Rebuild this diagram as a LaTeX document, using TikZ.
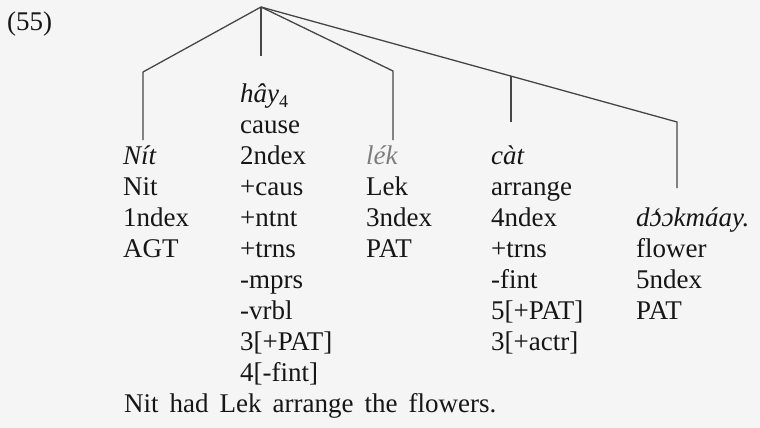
\documentclass[tikz,border=0pt]{standalone}
\usepackage{fontspec}
\setmainfont{Liberation Serif}
\usetikzlibrary{calc}
\definecolor{bg}{RGB}{245,245,245}
\definecolor{ink}{RGB}{22,22,22}
\definecolor{branch}{RGB}{70,70,70}
\definecolor{faded}{RGB}{125,125,125}
\newcommand\gravopen{\ooalign{ɔ\cr\hidewidth\kern0.12em{\upshape\symbol{"60}}\hidewidth\cr}}
\begin{document}
\begin{tikzpicture}[x=1pt,y=-1pt,
  txt/.style={anchor=base west, inner sep=0pt, text=ink, font=\fontsize{27}{31}\selectfont},
  ittxt/.style={txt, font=\fontsize{27}{31}\selectfont\itshape},
  branchline/.style={draw=branch, line width=1.3pt, line join=miter}]
\fill[bg] (0,0) rectangle (760,428);
\useasboundingbox (0,0) rectangle (760,428);

% example number
\node[txt] (ex) at (7,31) {(55)};

% column 1
\node[ittxt] (w1) at (123,164) {Nít};
\node[txt] (g1) at (123,195) {Nit};
\node[txt] (i1) at (123,226) {1ndex};
\node[txt] (r1) at (123,257) {AGT};

% column 2
\node[ittxt] (w2) at (240,102) {hây\raisebox{-0.22em}{\upshape\fontsize{18}{18}\selectfont 4}};
\node[txt] (g2) at (240,133) {cause};
\node[txt] (i2) at (240,164) {2ndex};
\node[txt] (f2a) at (240,195) {+caus};
\node[txt] (f2b) at (240,226) {+ntnt};
\node[txt] (f2c) at (240,257) {+trns};
\node[txt] (f2d) at (240,288) {-mprs};
\node[txt] (f2e) at (240,319) {-vrbl};
\node[txt] (f2f) at (240,350) {3[+PAT]};
\node[txt] (f2g) at (240,381) {4[-fint]};

% column 3
\node[ittxt, text=faded] (w3) at (366,164) {lék};
\node[txt] (g3) at (366,195) {Lek};
\node[txt] (i3) at (366,226) {3ndex};
\node[txt] (r3) at (366,257) {PAT};

% column 4
\node[ittxt] (w4) at (491,164) {càt};
\node[txt] (g4) at (491,195) {arrange};
\node[txt] (i4) at (491,226) {4ndex};
\node[txt] (f4a) at (491,257) {+trns};
\node[txt] (f4b) at (491,288) {-fint};
\node[txt] (f4c) at (491,319) {5[+PAT]};
\node[txt] (f4d) at (491,350) {3[+actr]};

% column 5
\node[ittxt] (w5) at (636,226) {d\gravopen ɔkmáay.};
\node[txt] (g5) at (636,257) {flower};
\node[txt] (i5) at (636,288) {5ndex};
\node[txt] (r5) at (636,319) {PAT};

% translation
\node[txt] (tr) at (124,412) {\spaceskip=11pt Nit had Lek arrange the flowers.};

% tree
\coordinate (root) at (261,7);
\coordinate (k1) at (143,72);
\coordinate (e1) at (143,140);
\coordinate (e2) at (261,56);
\coordinate (k3) at (393,71);
\coordinate (e3) at (393,140);
\coordinate (k5) at (677,122);
\coordinate (e5) at (677,188);
\coordinate (k4) at ($(root)!0.601!(k5)$);
\coordinate (e4) at (k4 |- e1);
\draw[branchline] (root) -- (k1) -- (e1);
\draw[branchline] (root) -- (e2);
\draw[branchline] (root) -- (k3) -- (e3);
\draw[branchline] (root) -- (k5) -- (e5);
\draw[branchline] (k4) -- ($(e4)+(0,-18)$);
\end{tikzpicture}
\end{document}
